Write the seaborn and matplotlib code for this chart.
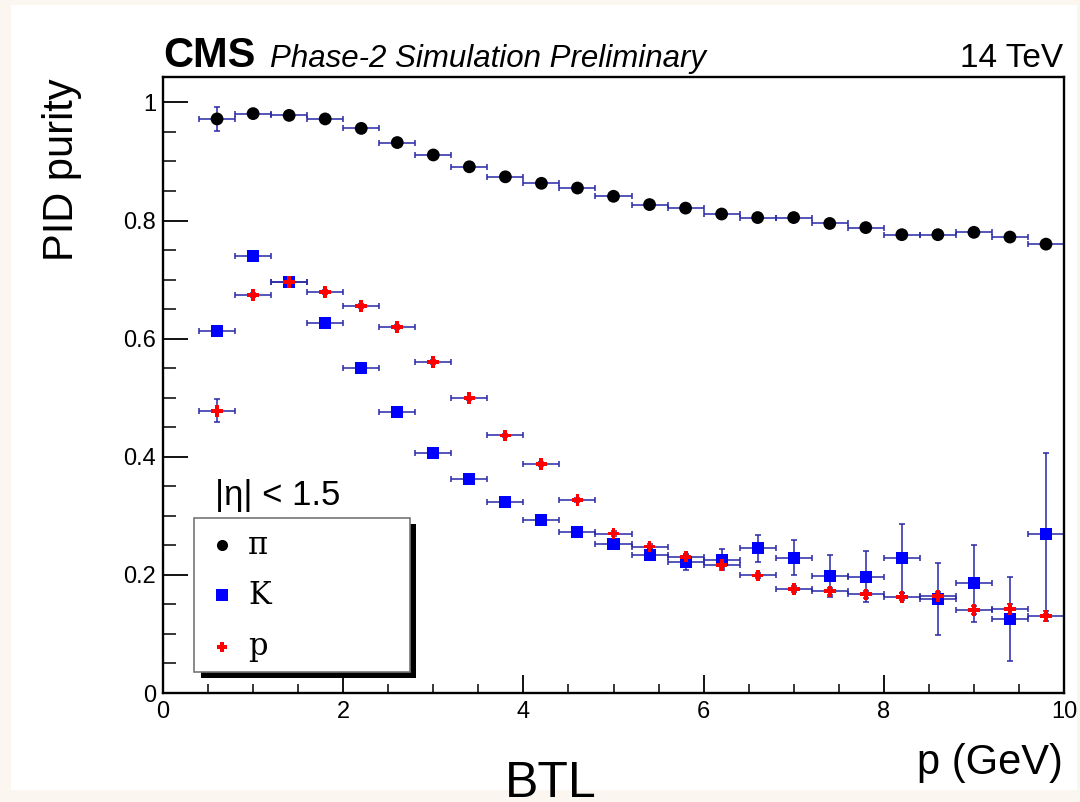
import numpy as np
import pandas as pd
import matplotlib
matplotlib.use("Agg")
import matplotlib.pyplot as plt
import seaborn as sns
from matplotlib.patches import Rectangle
from matplotlib.lines import Line2D
from matplotlib.ticker import MultipleLocator, FuncFormatter
from matplotlib.font_manager import FontProperties

# ---------------- data ----------------
p_centers = [0.6, 1.0, 1.4, 1.8, 2.2, 2.6, 3.0, 3.4, 3.8, 4.2, 4.6, 5.0,
             5.4, 5.8, 6.2, 6.6, 7.0, 7.4, 7.8, 8.2, 8.6, 9.0, 9.4, 9.8]
bin_halfwidth = 0.2

pion = [0.972, 0.981, 0.978, 0.972, 0.956, 0.932, 0.911, 0.891, 0.874, 0.863,
        0.855, 0.841, 0.827, 0.821, 0.811, 0.805, 0.805, 0.795, 0.788, 0.776,
        0.776, 0.780, 0.772, 0.760]
pion_err = [0.020, 0.003, 0.003, 0.003, 0.003, 0.003, 0.003, 0.003, 0.003, 0.003,
            0.003, 0.003, 0.003, 0.003, 0.003, 0.003, 0.003, 0.003, 0.003, 0.003,
            0.003, 0.003, 0.003, 0.003]

kaon = [0.613, 0.740, 0.696, 0.627, 0.550, 0.476, 0.406, 0.362, 0.324, 0.293,
        0.273, 0.252, 0.234, 0.221, 0.226, 0.245, 0.229, 0.198, 0.197, 0.228,
        0.159, 0.186, 0.126, 0.270]
kaon_err = [0.004, 0.004, 0.004, 0.004, 0.004, 0.004, 0.004, 0.004, 0.004, 0.004,
            0.005, 0.006, 0.009, 0.013, 0.018, 0.023, 0.030, 0.036, 0.043, 0.058,
            0.061, 0.065, 0.071, 0.136]

proton = [0.478, 0.674, 0.696, 0.679, 0.655, 0.620, 0.560, 0.499, 0.436, 0.388,
          0.327, 0.270, 0.248, 0.231, 0.217, 0.199, 0.176, 0.172, 0.167, 0.163,
          0.164, 0.141, 0.142, 0.130]
proton_err = [0.019, 0.004, 0.003, 0.003, 0.003, 0.003, 0.003, 0.003, 0.003, 0.003,
              0.003, 0.004, 0.004, 0.004, 0.005, 0.005, 0.005, 0.006, 0.006, 0.006,
              0.007, 0.007, 0.008, 0.008]

species_labels = ["π", "K", "p"]
x_ticks = [0, 2, 4, 6, 8, 10]
y_ticks = [0, 0.2, 0.4, 0.6, 0.8, 1.0]

# ---------------- style ----------------
sns.set_theme(style="white")
plt.rcParams['font.family'] = ['Liberation Sans', 'DejaVu Sans']
plt.rcParams['text.color'] = 'black'
plt.rcParams['axes.labelcolor'] = 'black'
plt.rcParams['xtick.color'] = 'black'
plt.rcParams['ytick.color'] = 'black'

W, H = 1080, 802
fig = plt.figure(figsize=(W / 100, H / 100), dpi=100)
fig.patch.set_facecolor('#FBF7F0')


def fx(px):
    return px / W


def fy(py):
    return 1 - py / H


# white panel
panel = Rectangle((fx(11), fy(790)), fx(1077) - fx(11), fy(5) - fy(790),
                  transform=fig.transFigure, facecolor='white',
                  edgecolor='none', zorder=-5)
fig.add_artist(panel)

ax = fig.add_axes([fx(163), fy(693), fx(1064) - fx(163), fy(77) - fy(693)])
ax.set_facecolor('white')

colors = {"π": "black", "K": "#0000FF", "p": "#FF0000"}
markers = {"π": "o", "K": "s", "p": "P"}
sizes = {"π": 85, "K": 75, "p": 70}

df = pd.DataFrame({
    "p": p_centers * 3,
    "purity": pion + kaon + proton,
    "err": pion_err + kaon_err + proton_err,
    "species": [species_labels[0]] * len(p_centers)
               + [species_labels[1]] * len(p_centers)
               + [species_labels[2]] * len(p_centers),
})

err_color = '#2a2aa8'
for sp in species_labels:
    sub = df[df.species == sp]
    ax.errorbar(sub["p"], sub["purity"], xerr=bin_halfwidth, yerr=sub["err"],
                fmt='none', ecolor=err_color, alpha=0.8, elinewidth=1.4,
                capsize=2.2, capthick=1.4, zorder=2)

sns.scatterplot(data=df, x="p", y="purity", hue="species", style="species",
                size="species", sizes=sizes, palette=colors, markers=markers,
                edgecolor='none', linewidth=0, legend=False, ax=ax, zorder=3)

ax.set_xlim(0, 10)
ax.set_ylim(0, 1.043)
ax.set_xlabel("")
ax.set_ylabel("")
ax.set_xticks(x_ticks)
ax.set_yticks(y_ticks)
ax.xaxis.set_minor_locator(MultipleLocator(0.5))
ax.yaxis.set_minor_locator(MultipleLocator(0.05))
ax.xaxis.set_major_formatter(FuncFormatter(lambda v, _: f"{v:g}"))
ax.yaxis.set_major_formatter(FuncFormatter(lambda v, _: f"{v:g}"))

ax.tick_params(axis='x', which='major', direction='in', length=13, width=1.3,
               labelsize=17, pad=6, top=False, bottom=True,
               colors='black', labelcolor='black')
ax.tick_params(axis='x', which='minor', direction='in', length=6.5, width=1.1,
               top=False, bottom=True, colors='black')
ax.tick_params(axis='y', which='major', direction='in', length=18, width=1.3,
               labelsize=17, pad=5, right=False, left=True,
               colors='black', labelcolor='black')
ax.tick_params(axis='y', which='minor', direction='in', length=9.5, width=1.1,
               right=False, left=True, colors='black')
for s in ax.spines.values():
    s.set_visible(True)
    s.set_color('black')
    s.set_linewidth(1.7)

# ---------------- texts ----------------
fig.text(fx(163), fy(67), "CMS", fontsize=30, fontweight='bold',
         ha='left', va='baseline', color='black')
fig.text(fx(270), fy(67), "Phase-2 Simulation Preliminary", fontsize=22.5,
         style='italic', ha='left', va='baseline', color='black')
fig.text(fx(1063), fy(67), "14 TeV", fontsize=24, ha='right', va='baseline',
         color='black')
fig.text(fx(62), fy(78), "PID purity", fontsize=30, rotation=90,
         ha='center', va='top', color='black')
fig.text(fx(1063), fy(774), "p (GeV)", fontsize=30, ha='right', va='baseline',
         color='black')
fig.text(fx(551), fy(797), "BTL", fontsize=36, ha='center', va='baseline',
         color='black')
fig.text(fx(215), fy(505), "|η| < 1.5", fontsize=25, ha='left', va='baseline',
         color='black')

# ---------------- legend box ----------------
shadow = Rectangle((fx(201), fy(678)), fx(416) - fx(201), fy(524) - fy(678),
                   transform=fig.transFigure, facecolor='black',
                   edgecolor='none', zorder=10)
box = Rectangle((fx(194), fy(672)), fx(410) - fx(194), fy(518) - fy(672),
                transform=fig.transFigure, facecolor='white',
                edgecolor='#777777', linewidth=1.2, zorder=11)
fig.add_artist(shadow)
fig.add_artist(box)
row_y = [545, 595, 647]
leg_sizes = {"π": 8, "K": 8, "p": 7}
leg_font = FontProperties(family='DejaVu Serif', size=22)
for sp, ry in zip(species_labels, row_y):
    fig.add_artist(Line2D([fx(222)], [fy(ry)], marker=markers[sp],
                          markersize=leg_sizes[sp], color=colors[sp],
                          markeredgewidth=0, linestyle='none',
                          transform=fig.transFigure, zorder=12))
    fig.text(fx(248), fy(ry), sp, fontproperties=leg_font,
             ha='left', va='center', zorder=12, color='black')

fig.savefig("out.png", dpi=100, facecolor=fig.get_facecolor())
